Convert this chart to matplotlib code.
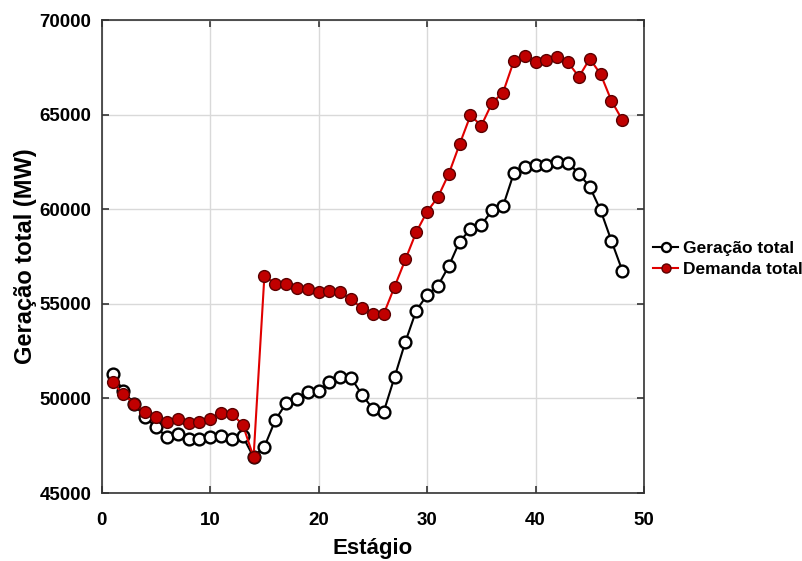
import matplotlib
matplotlib.use("Agg")
import matplotlib.pyplot as plt
from matplotlib.ticker import MultipleLocator

plt.rcParams['font.family'] = ['Liberation Sans', 'DejaVu Sans']
plt.rcParams['font.weight'] = 'bold'

stages = list(range(1, 49))
geracao = [51300, 50400, 49700, 49000, 48500, 47950, 48100, 47850, 47850, 47950,
           48000, 47850, 48000, 46900, 47450, 48850, 49750, 49950, 50350, 50400,
           50850, 51150, 51080, 50200, 49450, 49300, 51130, 53000, 54650, 55470,
           55960, 57000, 58300, 58950, 59180, 59950, 60170, 61920, 62230, 62370,
           62370, 62480, 62460, 61890, 61190, 59950, 58330, 56760]
demanda = [50850, 50220, 49720, 49270, 49020, 48780, 48900, 48720, 48770, 48930,
           49250, 49180, 48620, 46900, 56500, 56050, 56060, 55840, 55790, 55620,
           55700, 55620, 55240, 54770, 54470, 54470, 55910, 57350, 58800, 59880,
           60650, 61880, 63450, 64970, 64430, 65640, 66180, 67850, 68130, 67800,
           67880, 68060, 67770, 67010, 67970, 67150, 65740, 64730]
labels = ['Geração total', 'Demanda total']

fig = plt.figure(figsize=(8.03, 5.61), dpi=100)
ax = fig.add_axes([0.1267, 0.1212, 0.6753, 0.8426])

ax.plot(stages, geracao, '-o', color='black', lw=1.5, ms=8.5,
        mfc='white', mec='black', mew=1.7, label=labels[0], zorder=3)
ax.plot(stages, demanda, '-o', color='#e00000', lw=1.5, ms=8.5,
        mfc='#c00000', mec='#5a0000', mew=1.0, label=labels[1], zorder=4)

ax.set_xlim(0, 50)
ax.set_ylim(45000, 70000)
ax.xaxis.set_major_locator(MultipleLocator(10))
ax.yaxis.set_major_locator(MultipleLocator(5000))
ax.grid(True, color='#d9d9d9', lw=1.0)
ax.set_axisbelow(True)
for s in ax.spines.values():
    s.set_color('#333333')
    s.set_linewidth(1.2)
ax.tick_params(direction='in', length=5, width=1.2, top=True, right=True,
               labelsize=13.5, color='#333333')
ax.tick_params(axis='x', pad=14)
ax.tick_params(axis='y', pad=7.5)
for t in ax.get_xticklabels() + ax.get_yticklabels():
    t.set_fontweight('bold')

ax.set_xlabel('Estágio', fontsize=16, fontweight='bold', labelpad=6)
ax.set_ylabel('Geração total (MW)', fontsize=17, fontweight='bold', labelpad=2)

leg = fig.legend(loc='center left', bbox_to_anchor=(653 / 803, 1 - 259 / 561),
                 frameon=False, handlelength=1.45, handletextpad=0.3,
                 labelspacing=0.3, borderpad=0, borderaxespad=0,
                 prop={'weight': 'bold', 'size': 12.5})
for h in leg.legend_handles:
    h.set_markersize(6.5)

fig.savefig('out.png', dpi=100)
